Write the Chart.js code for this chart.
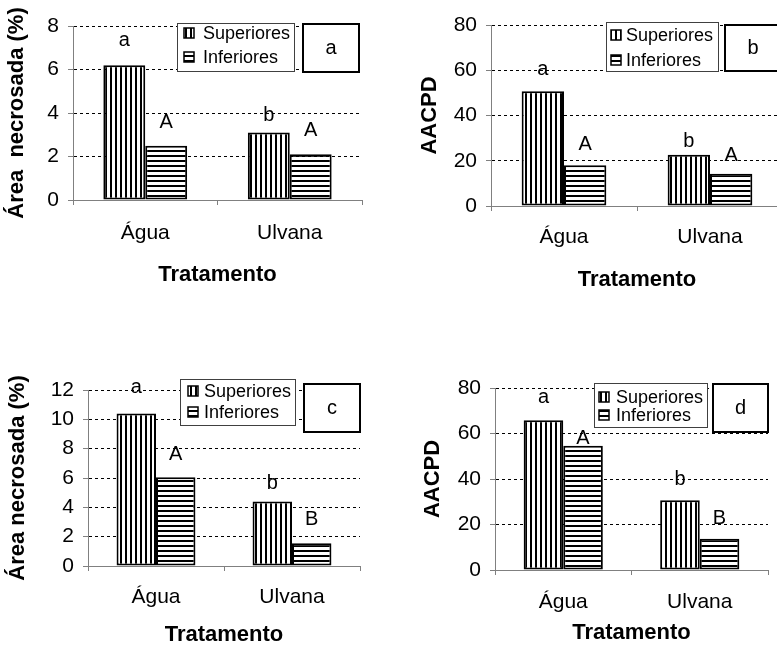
<!DOCTYPE html>
<html lang="pt">
<head>
<meta charset="utf-8">
<title>Área necrosada e AACPD</title>
<script src="https://cdn.jsdelivr.net/npm/chart.js@4.4.1/dist/chart.umd.min.js"></script>
<style>
    html, body { margin: 0; padding: 0; background: #fff; overflow: hidden; }
    body { width: 777px; height: 647px; position: relative; }
    canvas { position: absolute; }
</style>
</head>
<body>
<canvas id="graficoA"></canvas>
<canvas id="graficoB"></canvas>
<canvas id="graficoC"></canvas>
<canvas id="graficoD"></canvas>
<script>
// ---- dados ----
const categorias = ['Água', 'Ulvana'];
const series = ['Superiores', 'Inferiores'];

// a) área necrosada (%)
const superioresA = [6.2, 3.1];
const inferioresA = [2.5, 2.1];
const letrasSupA = ['a', 'b'];
const letrasInfA = ['A', 'A'];
const ticksA = [0, 2, 4, 6, 8];

// b) AACPD
const superioresB = [50.7, 22.6];
const inferioresB = [18, 14.3];
const letrasSupB = ['a', 'b'];
const letrasInfB = ['A', 'A'];
const ticksB = [0, 20, 40, 60, 80];

// c) área necrosada (%)
const superioresC = [10.4, 4.4];
const inferioresC = [6.05, 1.55];
const letrasSupC = ['a', 'b'];
const letrasInfC = ['A', 'B'];
const ticksC = [0, 2, 4, 6, 8, 10, 12];

// d) AACPD
const superioresD = [65.8, 30.7];
const inferioresD = [54.6, 13.7];
const letrasSupD = ['a', 'b'];
const letrasInfD = ['A', 'B'];
const ticksD = [0, 20, 40, 60, 80];

const FONTE = '"Liberation Sans", Arial, sans-serif';
Chart.defaults.font.family = FONTE;
Chart.defaults.color = '#000';

// listras pretas sobre branco
function padrao(ctx, vertical) {
    const c = document.createElement('canvas');
    c.width = 5; c.height = 5;
    const g = c.getContext('2d');
    g.fillStyle = '#fff';
    g.fillRect(0, 0, 5, 5);
    g.fillStyle = '#000';
    if (vertical) g.fillRect(0, 0, 2, 5); else g.fillRect(0, 0, 5, 2);
    return ctx.createPattern(c, 'repeat');
}

// legenda com borda, caixa da letra do painel e letras sobre as barras
const decoracao = {
    id: 'decoracao',
    afterDraw(chart, args, o) {
        const ctx = chart.ctx;
        ctx.save();
        const [lx, ly, lw, lh, qx, tx, r1, r2] = o.legenda;
        ctx.fillStyle = '#fff';
        ctx.fillRect(lx, ly, lw, lh);
        ctx.strokeStyle = '#404040';
        ctx.lineWidth = 1;
        ctx.strokeRect(lx + 0.5, ly + 0.5, lw - 1, lh - 1);
        ctx.font = '18px ' + FONTE;
        ctx.textAlign = 'left';
        ctx.textBaseline = 'middle';
        chart.data.datasets.forEach((ds, i) => {
            const yy = ly + (i === 0 ? r1 : r2);
            ctx.fillStyle = ds.backgroundColor;
            ctx.fillRect(lx + qx, yy - 5, 10, 10);
            ctx.strokeStyle = '#000';
            ctx.lineWidth = 1.5;
            ctx.strokeRect(lx + qx, yy - 5, 10, 10);
            ctx.fillStyle = '#000';
            ctx.fillText(ds.label, lx + tx, yy + 1);
        });

        const [bx, by, bw, bh] = o.caixa;
        ctx.fillStyle = '#fff';
        ctx.fillRect(bx, by, bw, bh);
        ctx.strokeStyle = '#000';
        ctx.lineWidth = 2;
        ctx.strokeRect(bx + 1, by + 1, bw - 2, bh - 2);
        ctx.fillStyle = '#000';
        ctx.font = '20px ' + FONTE;
        ctx.textAlign = 'center';
        ctx.fillText(o.painel, bx + bw / 2, by + bh / 2);

        ctx.font = '20px ' + FONTE;
        ctx.textBaseline = 'alphabetic';
        chart.data.datasets.forEach((ds, i) => {
            chart.getDatasetMeta(i).data.forEach((bar, j) => {
                ctx.fillText(o.letras[i][j], bar.x, bar.y - o.elevacao[i][j]);
            });
        });
        ctx.restore();
    }
};

function montarGrafico(p) {
    const el = document.getElementById(p.id);
    const [cx, cy, cw, ch] = p.tela;
    el.width = cw; el.height = ch;
    el.style.left = cx + 'px'; el.style.top = cy + 'px';
    el.style.width = cw + 'px'; el.style.height = ch + 'px';
    const ctx = el.getContext('2d');
    const aL = p.area[0] - cx, aT = p.area[1] - cy, aR = p.area[2] - cx, aB = p.area[3] - cy;
    const lg = p.legenda.slice();
    lg[0] -= cx; lg[1] -= cy;
    const cb = [p.caixa[0] - cx, p.caixa[1] - cy, p.caixa[2], p.caixa[3]];

    new Chart(el, {
        type: 'bar',
        data: {
            labels: categorias,
            datasets: [
                { label: series[0], data: p.sup, backgroundColor: padrao(ctx, true),
                  borderColor: '#000', borderWidth: 2, borderSkipped: false },
                { label: series[1], data: p.inf, backgroundColor: padrao(ctx, false),
                  borderColor: '#000', borderWidth: 2, borderSkipped: false }
            ]
        },
        options: {
            responsive: false,
            animation: false,
            layout: { padding: { left: 0, top: aT, right: cw - aR, bottom: 0 } },
            datasets: { bar: { categoryPercentage: 0.58, barPercentage: 1 } },
            plugins: {
                legend: { display: false },
                tooltip: { enabled: false },
                decoracao: {
                    legenda: lg, caixa: cb, painel: p.painel,
                    letras: p.letras, elevacao: p.elevacao
                }
            },
            scales: {
                x: {
                    grid: { display: true, offset: true, drawOnChartArea: false, drawTicks: true,
                            tickLength: 5, color: '#808080' },
                    border: { color: '#808080', width: 1 },
                    ticks: { font: { size: 21 }, color: '#000', padding: p.rotuloX - 5 - 12.6 },
                    title: { display: true, text: 'Tratamento', color: '#000',
                             font: { size: 22, weight: 'bold' },
                             padding: { top: 0, bottom: ch - (p.tituloX - cy) - 13.2 } },
                    afterFit: s => { s.height = ch - aB; }
                },
                y: {
                    min: p.ticks[0],
                    max: p.ticks[p.ticks.length - 1],
                    ticks: { stepSize: p.ticks[1] - p.ticks[0], font: { size: 21 }, color: '#000', padding: 9 },
                    grid: { color: c => (c.tick && c.tick.value === 0) ? 'rgba(0,0,0,0)' : '#000',
                            lineWidth: 1, tickLength: 5, tickColor: '#808080', tickBorderDash: [] },
                    border: { color: '#808080', width: 1, dash: [3, 3] },
                    title: { display: true, text: p.tituloY, color: '#000',
                             font: { size: 22, weight: 'bold' },
                             padding: p.tituloYcentro - cx - 13.2 },
                    afterFit: s => { s.width = aL; }
                }
            }
        },
        plugins: [decoracao]
    });
}

// posições de cada painel na página (px)
montarGrafico({
    id: 'graficoA', painel: 'a', tela: [0, 0, 388, 300], area: [73, 26, 362, 200],
    legenda: [177, 23, 118, 49, 7, 26, 10, 34], caixa: [302, 23, 58, 50],
    tituloY: 'Área  necrosada (%)', tituloYcentro: 17, rotuloX: 33, tituloX: 275,
    sup: superioresA, inf: inferioresA, ticks: ticksA,
    letras: [letrasSupA, letrasInfA], elevacao: [[19, 12], [18, 18]]
});
montarGrafico({
    id: 'graficoB', painel: 'b', tela: [390, 0, 400, 300], area: [491, 25, 783, 206],
    legenda: [606, 22, 113, 50, 5, 20, 13, 38], caixa: [724, 24, 58, 48],
    tituloY: 'AACPD', tituloYcentro: 430, rotuloX: 31, tituloX: 280,
    sup: superioresB, inf: inferioresB, ticks: ticksB,
    letras: [letrasSupB, letrasInfB], elevacao: [[16, 8], [15, 13]]
});
montarGrafico({
    id: 'graficoC', painel: 'c', tela: [0, 330, 388, 317], area: [88, 390, 360, 566],
    legenda: [180, 379, 116, 47, 8, 24, 12, 33], caixa: [303, 383, 58, 50],
    tituloY: 'Área necrosada (%)', tituloYcentro: 18, rotuloX: 31, tituloX: 635,
    sup: superioresC, inf: inferioresC, ticks: ticksC,
    letras: [letrasSupC, letrasInfC], elevacao: [[20, 12], [17, 18]]
});
montarGrafico({
    id: 'graficoD', painel: 'd', tela: [390, 330, 387, 317], area: [495, 388, 768, 570],
    legenda: [594, 383, 114, 45, 5, 22, 14, 32], caixa: [712, 383, 57, 50],
    tituloY: 'AACPD', tituloYcentro: 433, rotuloX: 32, tituloX: 633,
    sup: superioresD, inf: inferioresD, ticks: ticksD,
    letras: [letrasSupD, letrasInfD], elevacao: [[17, 15], [2, 15]]
});
</script>
</body>
</html>
